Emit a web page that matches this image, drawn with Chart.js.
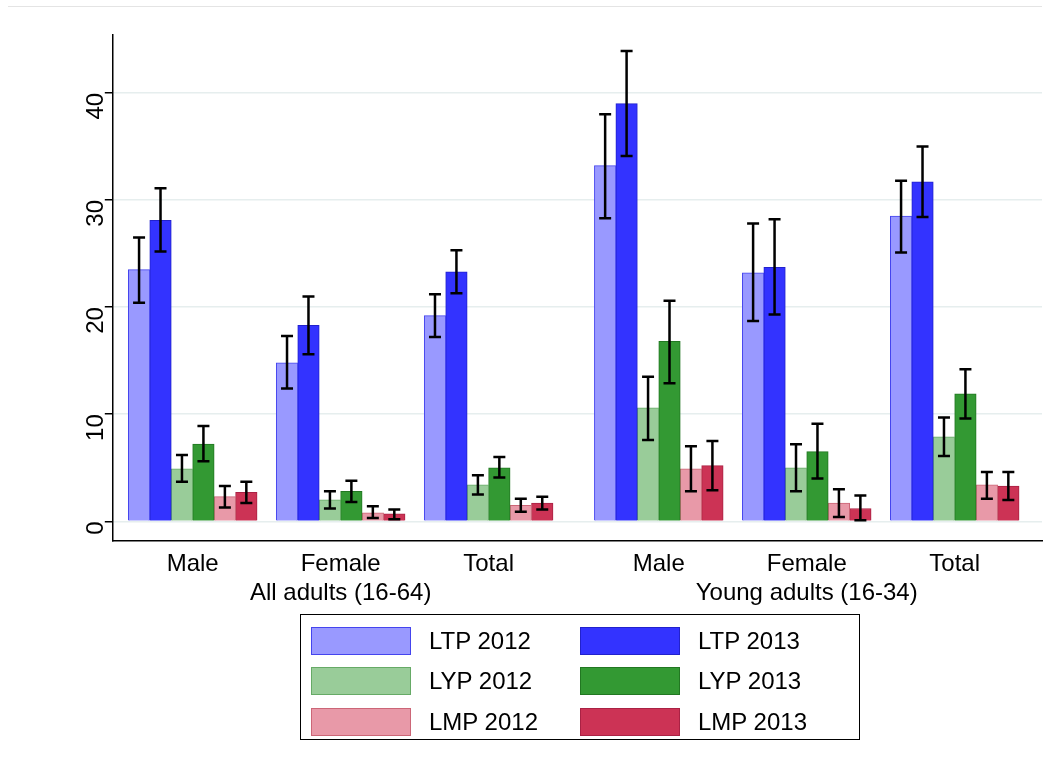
<!DOCTYPE html>
<html>
<head>
<meta charset="utf-8">
<script src="https://cdn.jsdelivr.net/npm/chart.js@4"></script>
<style>
body { margin: 0; background: #fff; font-family: Arial, "Liberation Sans", sans-serif; }
#wrap { position: relative; width: 1050px; height: 770px; }
#topline { position: absolute; left: 8px; right: 8px; top: 6px; border-top: 1px solid #e4e4e4; }
#legend { position: absolute; left: 300px; top: 614px; width: 560px; height: 126px; border: 1px solid #000; box-sizing: border-box;
  display: grid; grid-template-columns: 1fr 1fr; padding: 9px 10px 0 10px; row-gap: 7px; }
.item { display: flex; align-items: center; font-size: 24px; }
.sw { width: 100px; height: 28px; box-sizing: border-box; border: 1px solid; margin-right: 18px; }
</style>
</head>
<body>
<div id="wrap">
<div id="topline"></div>
<canvas id="chart" width="1050" height="770"></canvas>
<div id="legend"></div>
</div>
<script>
const groups = ['Male', 'Female', 'Total', 'Male', 'Female', 'Total'];
const groupNotes = ['', 'All adults (16-64)', '', '', 'Young adults (16-34)', ''];
const groupPos = [0, 1, 2, 3.15, 4.15, 5.15];

const seriesNames = ['LTP 2012', 'LTP 2013', 'LYP 2012', 'LYP 2013', 'LMP 2012', 'LMP 2013'];
const fills = ['#9999ff', '#3333ff', '#99cc99', '#339933', '#e899a8', '#cc3355'];
const borders = ['#4444ee', '#2222cc', '#66aa66', '#227722', '#cc6677', '#aa2244'];

const ltp2012 = [23.5, 14.8, 19.2, 33.2, 23.2, 28.5];
const ltp2013 = [28.1, 18.3, 23.3, 39.0, 23.7, 31.7];
const lyp2012 = [4.9, 2.0, 3.4, 10.6, 5.0, 7.9];
const lyp2013 = [7.2, 2.8, 5.0, 16.8, 6.5, 11.9];
const lmp2012 = [2.3, 0.8, 1.5, 4.9, 1.7, 3.4];
const lmp2013 = [2.7, 0.7, 1.7, 5.2, 1.2, 3.3];

const ltp2012Lo = [20.4, 12.4, 17.2, 28.3, 18.7, 25.1];
const ltp2012Hi = [26.5, 17.3, 21.2, 38.0, 27.8, 31.8];
const ltp2013Lo = [25.2, 15.6, 21.3, 34.1, 19.3, 28.4];
const ltp2013Hi = [31.1, 21.0, 25.3, 43.9, 28.2, 35.0];
const lyp2012Lo = [3.7, 1.2, 2.5, 7.6, 2.8, 6.1];
const lyp2012Hi = [6.2, 2.8, 4.3, 13.5, 7.2, 9.7];
const lyp2013Lo = [5.6, 1.8, 4.1, 12.9, 4.0, 9.6];
const lyp2013Hi = [8.9, 3.8, 6.0, 20.6, 9.1, 14.2];
const lmp2012Lo = [1.3, 0.3, 0.9, 2.8, 0.4, 2.1];
const lmp2012Hi = [3.3, 1.4, 2.1, 7.0, 3.0, 4.6];
const lmp2013Lo = [1.7, 0.2, 1.1, 2.9, 0.1, 2.0];
const lmp2013Hi = [3.7, 1.1, 2.3, 7.5, 2.4, 4.6];

const values = [ltp2012, ltp2013, lyp2012, lyp2013, lmp2012, lmp2013];
const lows = [ltp2012Lo, ltp2013Lo, lyp2012Lo, lyp2013Lo, lmp2012Lo, lmp2013Lo];
const highs = [ltp2012Hi, ltp2013Hi, lyp2012Hi, lyp2013Hi, lmp2012Hi, lmp2013Hi];

const barUnit = 0.145;
const datasets = seriesNames.map(function (name, i) {
    return {
        label: name,
        data: values[i].map(function (v, g) { return { x: groupPos[g] + (i - 2.5) * barUnit, y: v }; }),
        backgroundColor: fills[i],
        borderColor: borders[i],
        borderWidth: 1,
        barThickness: 21.5,
        grouped: false
    };
});

const errorBars = {
    id: 'errorBars',
    afterDatasetsDraw(chart) {
        const ctx = chart.ctx, ys = chart.scales.y, xs = chart.scales.x;
        ctx.save();
        ctx.strokeStyle = '#000';
        ctx.lineWidth = 2.5;
        chart.data.datasets.forEach(function (ds, i) {
            ds.data.forEach(function (p, g) {
                const x = xs.getPixelForValue(p.x);
                const y1 = ys.getPixelForValue(lows[i][g]);
                const y2 = ys.getPixelForValue(highs[i][g]);
                ctx.beginPath();
                ctx.moveTo(x, y1); ctx.lineTo(x, y2);
                ctx.moveTo(x - 6, y1); ctx.lineTo(x + 6, y1);
                ctx.moveTo(x - 6, y2); ctx.lineTo(x + 6, y2);
                ctx.stroke();
            });
        });
        ctx.restore();
    }
};

new Chart(document.getElementById('chart'), {
    type: 'bar',
    data: { datasets: datasets },
    plugins: [errorBars],
    options: {
        responsive: false,
        animation: false,
        layout: { padding: { left: 60, right: 8, top: 35, bottom: 160 } },
        plugins: { legend: { display: false }, tooltip: { enabled: false } },
        scales: {
            x: {
                type: 'linear', min: -0.54, max: 5.74, offset: false,
                afterBuildTicks: function (s) { s.ticks = groupPos.map(function (v) { return { value: v }; }); },
                ticks: {
                    autoSkip: false, maxRotation: 0, color: '#000', font: { size: 24 }, padding: 2,
                    callback: function (v, idx) { return groupNotes[idx] ? [groups[idx], groupNotes[idx]] : groups[idx]; }
                },
                grid: { display: false, offset: false },
                border: { color: '#000', width: 1.5 }
            },
            y: {
                min: -1.78, max: 45.4,
                afterBuildTicks: function (s) { s.ticks = [0, 10, 20, 30, 40].map(function (v) { return { value: v }; }); },
                ticks: { color: '#000', font: { size: 24 }, minRotation: 90, maxRotation: 90, padding: 8 },
                grid: { color: '#e6eeee', lineWidth: 1.5, tickLength: 8, tickColor: '#000' },
                border: { color: '#000', width: 1.5 }
            }
        }
    }
});

const legend = document.getElementById('legend');
seriesNames.forEach(function (name, i) {
    const d = document.createElement('div');
    d.className = 'item';
    d.innerHTML = '<span class="sw" style="background:' + fills[i] + ';border-color:' + borders[i] + '"></span>' + name;
    legend.appendChild(d);
});
</script>
</body>
</html>
